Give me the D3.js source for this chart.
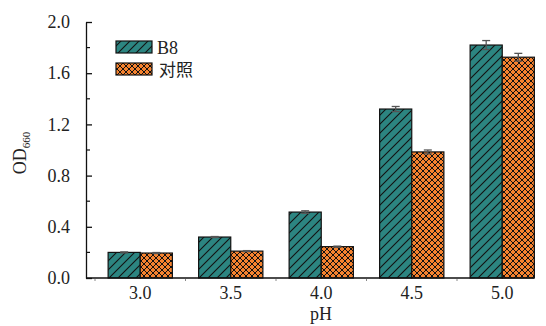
<!DOCTYPE html>
<html>
<head>
<meta charset="utf-8">
<script src="https://cdn.jsdelivr.net/npm/d3@7/dist/d3.min.js"></script>
<style>
  html, body { margin: 0; padding: 0; background: #fff; }
  svg { display: block; }
</style>
</head>
<body>
<svg id="chart" width="546" height="326"></svg>
<script>
// pH levels tested
const categories = ["3.0", "3.5", "4.0", "4.5", "5.0"];
// Series names
const seriesNames = ["B8", "对照"];
// Mean OD660 per pH
const b8Values = [0.20, 0.32, 0.515, 1.32, 1.82];
const ctrlValues = [0.195, 0.21, 0.245, 0.985, 1.725];
// Error (±) per pH
const b8Errors = [0.004, 0.004, 0.01, 0.02, 0.035];
const ctrlErrors = [0.004, 0.004, 0.004, 0.015, 0.03];
// Y axis ticks
const yTicks = [0.0, 0.4, 0.8, 1.2, 1.6, 2.0];
const yMinorTicks = [0.2, 0.6, 1.0, 1.4, 1.8];

const FONT = "Liberation Serif";
const FONT_CJK = "Noto Sans CJK SC";
const TEXT_COLOR = "#222";

const svg = d3.select("#chart");
const plotLeft = 86, plotBottom = 278, plotTop = 22;

const x = d3.scaleBand().domain(categories).range([95, 547.5]).paddingInner(0.29).paddingOuter(0.145);
const xSub = d3.scaleBand().domain(seriesNames).range([0, x.bandwidth()]);
const y = d3.scaleLinear().domain([0, 2.0]).range([plotBottom, plotTop]);

// Fill patterns
const defs = svg.append("defs");
const teal = "#2c8581", orange = "#f5822f";
const p1 = defs.append("pattern").attr("id", "hatchB8").attr("patternUnits", "userSpaceOnUse")
  .attr("width", 9).attr("height", 9);
p1.append("rect").attr("width", 9).attr("height", 9).attr("fill", teal);
p1.append("path").attr("d", "M-2,2 L2,-2 M0,9 L9,0 M7,11 L11,7").attr("stroke", "#111").attr("stroke-width", 1.1);

const p2 = defs.append("pattern").attr("id", "hatchCtrl").attr("patternUnits", "userSpaceOnUse")
  .attr("width", 6).attr("height", 6);
p2.append("rect").attr("width", 6).attr("height", 6).attr("fill", orange);
p2.append("path").attr("d", "M0,0 L6,6 M6,0 L0,6 M-1,5 L1,7 M5,-1 L7,1 M-1,1 L1,-1 M5,7 L7,5")
  .attr("stroke", "#111").attr("stroke-width", 1);

const series = [
  { name: seriesNames[0], values: b8Values, errors: b8Errors, fill: "url(#hatchB8)" },
  { name: seriesNames[1], values: ctrlValues, errors: ctrlErrors, fill: "url(#hatchCtrl)" }
];

// Bars
series.forEach(s => {
  const g = svg.append("g");
  g.selectAll("rect").data(categories).join("rect")
    .attr("x", c => x(c) + xSub(s.name))
    .attr("y", (c, i) => y(s.values[i]))
    .attr("width", xSub.bandwidth())
    .attr("height", (c, i) => y(0) - y(s.values[i]))
    .attr("fill", s.fill)
    .attr("stroke", "#111").attr("stroke-width", 1.2);
});

// Error bars
series.forEach(s => {
  const g = svg.append("g").attr("stroke", "#555").attr("stroke-width", 1.3);
  categories.forEach((c, i) => {
    const cx = x(c) + xSub(s.name) + xSub.bandwidth() / 2;
    const yHi = y(s.values[i] + s.errors[i]), yLo = y(s.values[i] - s.errors[i]);
    g.append("line").attr("x1", cx).attr("x2", cx).attr("y1", yHi).attr("y2", yLo);
    g.append("line").attr("x1", cx - 4).attr("x2", cx + 4).attr("y1", yHi).attr("y2", yHi);
    g.append("line").attr("x1", cx - 4).attr("x2", cx + 4).attr("y1", yLo).attr("y2", yLo);
  });
});

// Y axis
const yAxis = svg.append("g").attr("transform", `translate(${plotLeft},0)`)
  .call(d3.axisLeft(y).tickValues(yTicks).tickFormat(d3.format(".1f")).tickSizeInner(-6).tickSizeOuter(0).tickPadding(16))
  .attr("font-family", FONT);
yAxis.select(".domain").attr("stroke", "#111").attr("stroke-width", 1.3);
yAxis.selectAll(".tick line").attr("stroke", "#111").attr("stroke-width", 1.3);
yAxis.selectAll(".tick text").attr("font-size", 18).attr("font-family", FONT).attr("fill", TEXT_COLOR);
yAxis.selectAll(".minor").data(yMinorTicks).join("line")
  .attr("x1", 0).attr("x2", 4).attr("y1", d => y(d)).attr("y2", d => y(d))
  .attr("stroke", "#111").attr("stroke-width", 1.2);

// X axis
const xAxis = svg.append("g").attr("transform", `translate(0,${plotBottom})`)
  .call(d3.axisBottom(x).tickSize(0).tickPadding(8))
  .attr("font-family", FONT);
xAxis.select(".domain").remove();
xAxis.append("line").attr("x1", plotLeft).attr("x2", 534).attr("y1", 0).attr("y2", 0)
  .attr("stroke", "#111").attr("stroke-width", 1.3);
xAxis.selectAll(".tick text").attr("font-size", 18).attr("font-family", FONT).attr("fill", TEXT_COLOR);
const bounds = categories.map(c => x(c) - x.step() * x.paddingInner() / 2).concat([546.5]);
xAxis.selectAll(".btick").data(bounds).join("line")
  .attr("x1", d => d).attr("x2", d => d).attr("y1", 1).attr("y2", 3)
  .attr("stroke", "#888").attr("stroke-width", 1);

// Axis titles
svg.append("text").attr("x", 321).attr("y", 320).attr("text-anchor", "middle")
  .attr("font-family", FONT).attr("font-size", 18).attr("fill", TEXT_COLOR).text("pH");
const yt = svg.append("text").attr("transform", "translate(26,153) rotate(-90)")
  .attr("text-anchor", "middle").attr("font-family", FONT).attr("font-size", 18).attr("fill", TEXT_COLOR);
yt.append("tspan").text("OD");
yt.append("tspan").attr("font-size", 11).attr("dy", 4).text("660");

// Legend
const legend = svg.append("g");
series.forEach((s, i) => {
  const ly = 41 + i * 22;
  legend.append("rect").attr("x", 116).attr("y", ly).attr("width", 36).attr("height", 12)
    .attr("fill", s.fill).attr("stroke", "#111").attr("stroke-width", 1.2);
  legend.append("text").attr("x", i === 0 ? 157 : 159).attr("y", ly + 13)
    .attr("font-family", i === 0 ? FONT : FONT_CJK).attr("font-size", i === 0 ? 18 : 17)
    .attr("fill", TEXT_COLOR).text(s.name);
});
</script>
</body>
</html>
